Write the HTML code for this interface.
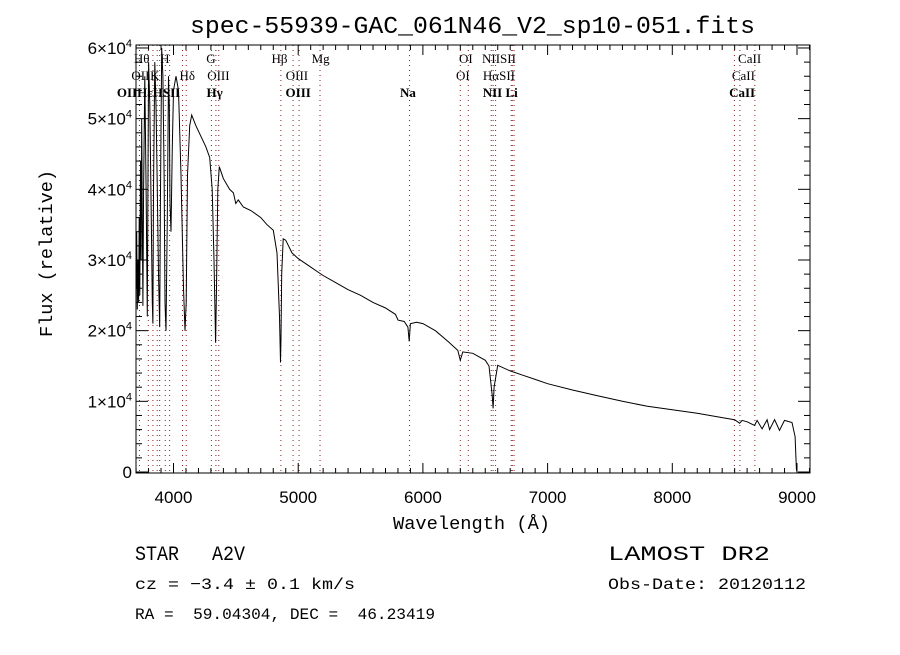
<!DOCTYPE html>
<html><head><meta charset="utf-8">
<style>
body{margin:0;background:#fff;width:900px;height:650px;overflow:hidden}
svg text{font-family:"Liberation Serif",serif;fill:#000}
svg text.mono{font-family:"Liberation Mono",monospace}
</style></head><body>
<svg id="chart" width="900" height="650">
<text class="mono" x="190" y="33" font-size="24" textLength="565" lengthAdjust="spacingAndGlyphs">spec-55939-GAC_061N46_V2_sp10-051.fits</text>
<g id="lines"></g>
<g id="axes"></g>
<polyline id="spec" fill="none" stroke="#000" stroke-width="1"/>
<text class="mono" x="393" y="529" font-size="18" textLength="157" lengthAdjust="spacingAndGlyphs">Wavelength (Å)</text>
<text class="mono" transform="translate(52,337) rotate(-90)" font-size="18" textLength="167" lengthAdjust="spacingAndGlyphs">Flux (relative)</text>
<text class="mono" x="135" y="560" font-size="20" textLength="110" lengthAdjust="spacingAndGlyphs">STAR&#160;&#160;&#160;A2V</text>
<text class="mono" x="135" y="589" font-size="16" textLength="220" lengthAdjust="spacingAndGlyphs">cz = −3.4 ± 0.1 km/s</text>
<text class="mono" x="135" y="619" font-size="16" textLength="300" lengthAdjust="spacingAndGlyphs">RA =&#160;&#160;59.04304, DEC =&#160;&#160;46.23419</text>
<text class="mono" x="608" y="560" font-size="20" textLength="162" lengthAdjust="spacingAndGlyphs">LAMOST DR2</text>
<text class="mono" x="608" y="589" font-size="16" textLength="198" lengthAdjust="spacingAndGlyphs">Obs-Date: 20120112</text>
</svg>
<script>
const waves=[3700,3705,3710,3715,3720,3725,3730,3735,3740,3745,3750,3755,3760,3770,3780,3790,3796,3800,3810,3820,3830,3835,3840,3850,3860,3870,3880,3889,3895,3905,3915,3925,3932,3940,3950,3960,3966,3972,3980,3990,4000,4020,4040,4060,4080,4092,4102,4112,4130,4146,4180,4220,4260,4290,4310,4325,4338,4345,4355,4367,4400,4450,4480,4500,4520,4560,4620,4700,4750,4800,4830,4850,4858,4862,4868,4880,4900,4950,5000,5100,5158,5200,5300,5400,5500,5600,5700,5780,5800,5850,5880,5890,5900,5950,6000,6100,6200,6280,6300,6320,6400,6500,6530,6555,6563,6571,6600,6700,6800,6900,7000,7200,7400,7600,7800,8000,8200,8400,8500,8540,8560,8600,8660,8680,8720,8760,8780,8820,8860,8900,8960,8985,8995,9000];
const fluxes=[26000,34000,23000,30000,24000,36000,25000,44000,30000,50000,36000,23500,40000,56000,40000,22000,45000,58000,52000,38000,24000,21000,40000,58000,52000,40000,28000,20500,38000,60000,56000,42000,24000,20000,36000,56000,52000,38000,34000,46000,54000,56000,54000,42000,26000,20000,24000,42000,49000,50500,49000,47500,46000,44500,40000,30000,18300,26000,40000,43200,41500,40000,39500,38000,38500,37500,37000,36000,35000,34200,31000,22000,15500,19000,28000,33000,32800,31000,30200,29000,28300,27800,26800,25800,25000,24000,23200,22300,21500,21300,20500,18500,21000,21200,21000,20000,18500,17200,15800,17000,16800,15800,15000,11000,9000,12000,15100,14300,13700,13100,12500,11600,10800,10000,9300,8800,8300,7700,7400,6900,7300,7100,6600,7300,6100,7400,6000,7400,5900,7300,7000,5000,400,0];
const ticksX=[4000,5000,6000,7000,8000,9000];
const ticksY=[0,1,2,3,4,5,6];
const lineW=[3727,3798,3835,3869,3889,3934,3969,4072,4102,4304,4340,4363,4861,4959,5007,5175,5893,6300,6364,6548,6563,6583,6708,6717,6731,8498,8542,8662];
const labTxt=["Hθ","H","G","Hβ","Mg","OI","NIISII","CaII","OII","K","Hδ","OIII","OIII","OI","HαSII","CaII","OIIHεHSII","Hγ","OIII","Na","NII Li","CaII"];
const labW=[3745,3930,4300,4850,5180,6345,6610,8620,3735,3850,4110,4360,4990,6320,6610,8570,3800,4330,5000,5880,6620,8560];
const labRow=[0,0,0,0,0,0,0,0,1,1,1,1,1,1,1,1,2,2,2,2,2,2];
const X0=136,X1=810,Y0=45,Y1=473;
const xs=w=>173.5+(w-4000)*0.1247;
const ys=f=>472-f*0.007067;
const NS="http://www.w3.org/2000/svg";
function mk(t,a,p){const e=document.createElementNS(NS,t);for(const k in a)e.setAttribute(k,a[k]);p.appendChild(e);return e;}
const ax=document.getElementById('axes'),lg=document.getElementById('lines');
const frame=mk('rect',{x:X0,y:Y0,width:X1-X0,height:Y1-Y0,fill:'none',stroke:'#000','stroke-width':1},ax);


for(let w=3700;w<=9100;w+=100){const x=xs(w);if(x<X0||x>X1)continue;const L=(w%1000==0)?10:5;
 mk('line',{x1:x,x2:x,y1:Y1,y2:Y1-L,stroke:'#000'},ax);mk('line',{x1:x,x2:x,y1:Y0,y2:Y0+L,stroke:'#000'},ax);}
for(let f=0;f<=60000;f+=2000){const y=ys(f);const L=(f%10000==0)?12:6;
 mk('line',{x1:X0,x2:X0+L,y1:y,y2:y,stroke:'#000'},ax);mk('line',{x1:X1,x2:X1-L,y1:y,y2:y,stroke:'#000'},ax);}
ticksX.forEach(v=>{const t=mk('text',{x:xs(v),y:503,'font-size':17,'text-anchor':'middle',style:'font-family:"Liberation Sans",sans-serif'},ax);t.textContent=v;
 
 });
ticksY.forEach(v=>{const t=mk('text',{x:132,y:ys(v*10000)+6,'font-size':17,'text-anchor':'end',style:'font-family:"Liberation Sans",sans-serif'},ax);
 if(v==0)t.textContent='0';else t.innerHTML=v+'×10<tspan dy="-7" font-size="11">4</tspan>';
 
 });
lineW.forEach(w=>{const l=mk('line',{x1:xs(w),x2:xs(w),y1:Y0,y2:Y1,stroke:'#8b2020','stroke-dasharray':'1,4','stroke-width':1},lg);
 
 });
labTxt.forEach((s,i)=>{const t=mk('text',{x:xs(labW[i]),y:63+labRow[i]*17,'font-size':13,'text-anchor':'middle','font-weight':labRow[i]==2?'bold':'normal'},lg);t.textContent=s;
 
 });
document.getElementById('spec').setAttribute('points',waves.map((w,i)=>xs(w).toFixed(1)+','+ys(fluxes[i]).toFixed(1)).join(' '));
</script>
</body></html>
